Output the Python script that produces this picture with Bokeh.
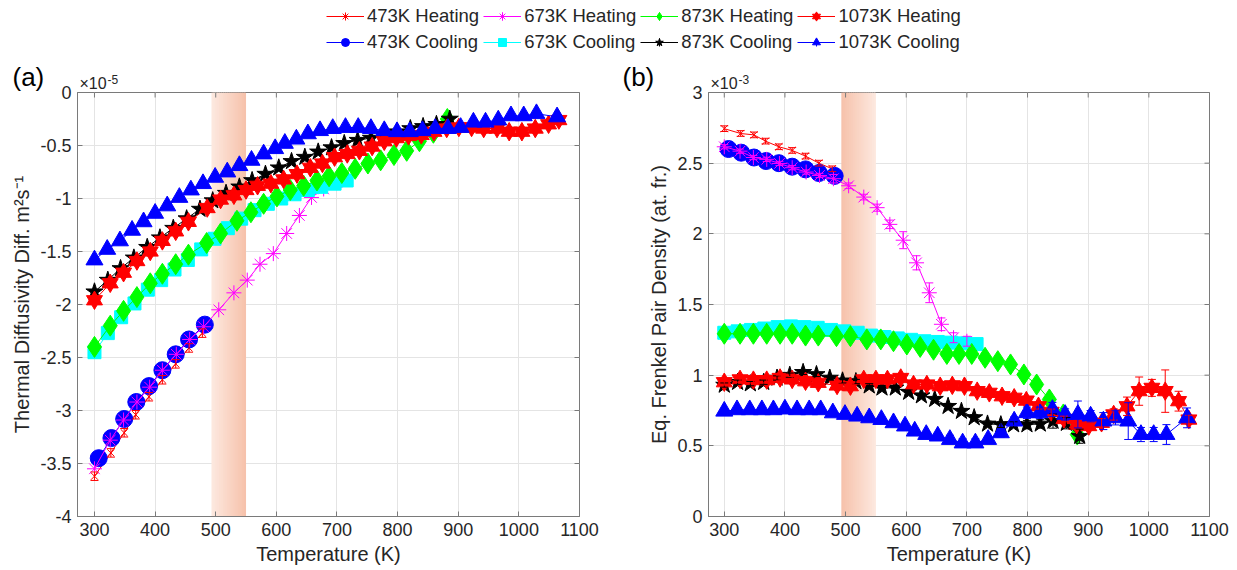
import math
from bokeh.plotting import figure
from bokeh.models import (Range1d, FixedTicker, Legend, LegendItem, Label,
                          BoxAnnotation, Whisker, TeeHead, ColumnDataSource)
from bokeh.layouts import column, row
from bokeh.embed import file_html
from bokeh.resources import INLINE

# ---------------- data ----------------
SERIES = ["473K Heating", "473K Cooling", "673K Heating", "673K Cooling",
          "873K Heating", "873K Cooling", "1073K Heating", "1073K Cooling"]
LEGEND_ORDER = ["473K Heating", "673K Heating", "873K Heating", "1073K Heating",
                "473K Cooling", "673K Cooling", "873K Cooling", "1073K Cooling"]

# temperatures (K)
T_473H = [300, 327, 349, 368, 390, 412, 434, 456, 478]
T_473C = [307, 328, 349, 369, 390, 412, 434, 456, 482]
T_673H = [300, 326, 348, 370, 391, 412, 435, 457, 480, 505, 530, 552, 573, 595, 617, 638, 658, 678, 700]
T_673C = [300, 322, 344, 366, 388, 410, 432, 454, 476, 498, 520, 542, 564, 586, 608, 630, 652, 674, 696, 716]
T_873H = [300, 326, 348, 370, 392, 412, 434, 455, 485, 508, 535, 558, 579, 601, 623, 645, 667, 687, 708,
          730, 751, 772, 794, 815, 836, 859, 882]
T_873C = [300, 322, 343, 365, 387, 408, 430, 452, 474, 495, 517, 539, 560, 582, 604, 625, 647, 669, 691,
          712, 734, 756, 777, 799, 821, 842, 864, 886]
T_1073H = [300, 326, 348, 370, 392, 412, 434, 455, 486, 508, 530, 550, 569, 591, 612, 634, 656, 676, 696,
           717, 737, 758, 778, 798, 818, 839, 860, 881, 901, 922, 942, 964, 984, 1005, 1027, 1049, 1066]
T_1073C = [300, 321, 342, 362, 381, 400, 420, 440, 459, 479, 499, 519, 539, 559, 579, 598, 614, 633, 652,
           672, 693, 714, 735, 756, 778, 799, 820, 841, 862, 883, 904, 925, 945, 966, 987, 1008, 1029, 1063]

# (a) thermal diffusivity difference, in units of 1e-5 m^2 s^-1
A_473H = [-3.62, -3.40, -3.21, -3.04, -2.87, -2.71, -2.56, -2.41, -2.27]
A_473C = [-3.45, -3.26, -3.08, -2.92, -2.77, -2.62, -2.47, -2.33, -2.19]
A_673H = [-3.55, -3.28, -3.09, -2.92, -2.78, -2.62, -2.47, -2.33, -2.21, -2.05, -1.89, -1.77, -1.62,
          -1.52, -1.33, -1.16, -0.99, -0.91, -0.85]
A_673C = [-2.45, -2.27, -2.12, -1.99, -1.86, -1.77, -1.67, -1.58, -1.48, -1.38, -1.28, -1.19, -1.11,
          -1.05, -1.00, -0.96, -0.92, -0.89, -0.86, -0.83]
A_873H = [-2.40, -2.20, -2.06, -1.93, -1.80, -1.71, -1.62, -1.53, -1.42, -1.33, -1.21, -1.13, -1.05,
          -0.98, -0.92, -0.88, -0.83, -0.79, -0.76, -0.72, -0.67, -0.64, -0.59, -0.55, -0.46, -0.38, -0.25]
A_873C = [-1.88, -1.77, -1.66, -1.56, -1.46, -1.37, -1.28, -1.19, -1.10, -1.02, -0.95, -0.89, -0.83,
          -0.77, -0.71, -0.65, -0.61, -0.56, -0.52, -0.48, -0.45, -0.43, -0.40, -0.37, -0.34, -0.32,
          -0.30, -0.25]
A_1073H = [-1.96, -1.80, -1.70, -1.59, -1.50, -1.40, -1.31, -1.22, -1.09, -1.01, -0.97, -0.92, -0.88,
           -0.86, -0.82, -0.77, -0.71, -0.67, -0.61, -0.58, -0.55, -0.51, -0.46, -0.43, -0.41, -0.40,
           -0.37, -0.34, -0.33, -0.33, -0.34, -0.34, -0.37, -0.37, -0.34, -0.30, -0.26]
A_1073C = [-1.58, -1.48, -1.40, -1.30, -1.22, -1.14, -1.07, -0.99, -0.92, -0.86, -0.80, -0.75, -0.69,
           -0.64, -0.58, -0.53, -0.48, -0.44, -0.39, -0.36, -0.34, -0.33, -0.33, -0.34, -0.36, -0.37,
           -0.37, -0.36, -0.34, -0.34, -0.33, -0.28, -0.28, -0.26, -0.22, -0.22, -0.20, -0.23]
EA_473H = [0.04, 0.04, 0.04, 0.04, 0.04, 0.04, 0.04, 0.04, 0.04]

# (b) equilibrium Frenkel pair density, in units of 1e-3 (at. fr.)
B_473H = [2.744, 2.71, 2.70, 2.656, 2.616, 2.59, 2.55, 2.50, 2.46]
B_473C = [2.60, 2.574, 2.54, 2.515, 2.50, 2.475, 2.456, 2.43, 2.41]
B_673H = [2.616, 2.585, 2.54, 2.527, 2.498, 2.468, 2.437, 2.413, 2.39, 2.34, 2.26, 2.185, 2.067, 1.955,
          1.795, 1.583, 1.36, 1.265, 1.24]
B_673C = [1.30, 1.31, 1.32, 1.33, 1.34, 1.345, 1.34, 1.335, 1.32, 1.31, 1.30, 1.28, 1.27, 1.26, 1.25,
          1.24, 1.235, 1.23, 1.225, 1.22]
B_873H = [1.293, 1.293, 1.293, 1.293, 1.293, 1.293, 1.28, 1.28, 1.276, 1.276, 1.253, 1.253, 1.24, 1.217,
          1.20, 1.18, 1.15, 1.15, 1.15, 1.123, 1.099, 1.076, 1.005, 0.934, 0.828, 0.722, 0.58]
B_873C = [0.93, 0.95, 0.94, 0.95, 0.98, 1.00, 1.02, 1.005, 0.98, 0.96, 0.955, 0.925, 0.91, 0.91, 0.88,
          0.855, 0.83, 0.78, 0.745, 0.70, 0.655, 0.65, 0.65, 0.65, 0.655, 0.675, 0.66, 0.568]
B_1073H = [0.95, 0.97, 0.965, 0.965, 0.98, 0.97, 0.957, 0.946, 0.927, 0.922, 0.97, 0.97, 0.97, 0.98,
           0.934, 0.934, 0.922, 0.928, 0.922, 0.887, 0.875, 0.851, 0.84, 0.82, 0.78, 0.74, 0.69, 0.65,
           0.64, 0.663, 0.722, 0.78, 0.887, 0.91, 0.887, 0.816, 0.686]
B_1073C = [0.745, 0.755, 0.755, 0.755, 0.755, 0.76, 0.755, 0.755, 0.755, 0.733, 0.722, 0.71, 0.698,
           0.686, 0.663, 0.64, 0.604, 0.58, 0.569, 0.545, 0.52, 0.52, 0.545, 0.592, 0.675, 0.734, 0.734,
           0.757, 0.722, 0.722, 0.71, 0.675, 0.698, 0.675, 0.58, 0.58, 0.58, 0.698]
EB_473H = [0.02, 0.02, 0.02, 0.02, 0.02, 0.02, 0.02, 0.02, 0.02]
EB_673H = [0.015, 0.015, 0.015, 0.015, 0.015, 0.015, 0.015, 0.015, 0.03, 0.02, 0.02, 0.025, 0.03,
           0.06, 0.05, 0.07, 0.045, 0.035, 0.035]
EB_873C = [0.015, 0.015, 0.015, 0.015, 0.015, 0.015, 0.015, 0.015, 0.015, 0.015, 0.015, 0.015, 0.015,
           0.015, 0.015, 0.015, 0.015, 0.02, 0.02, 0.02, 0.02, 0.02, 0.02, 0.03, 0.03, 0.05, 0.04, 0.05]
EB_1073H = [0.02, 0.02, 0.02, 0.02, 0.02, 0.02, 0.02, 0.02, 0.02, 0.02, 0.02, 0.02, 0.02, 0.02, 0.02,
            0.02, 0.02, 0.02, 0.02, 0.02, 0.02, 0.02, 0.02, 0.02, 0.02, 0.02, 0.02, 0.02, 0.03, 0.03,
            0.04, 0.065, 0.10, 0.06, 0.15, 0.07, 0.03]
EB_1073C = [0.015, 0.015, 0.015, 0.015, 0.015, 0.015, 0.015, 0.015, 0.015, 0.015, 0.015, 0.015, 0.015,
            0.015, 0.015, 0.015, 0.015, 0.015, 0.02, 0.03, 0.03, 0.03, 0.02, 0.03, 0.03, 0.04, 0.04,
            0.05, 0.04, 0.095, 0.04, 0.06, 0.05, 0.13, 0.05, 0.05, 0.07, 0.07]

X_TICKS = [300, 400, 500, 600, 700, 800, 900, 1000, 1100]
YA_TICKS = [-4, -3.5, -3, -2.5, -2, -1.5, -1, -0.5, 0]
YB_TICKS = [0, 0.5, 1, 1.5, 2, 2.5, 3]
BAND_K = [493, 550]

TEMPS = dict(zip(SERIES, [T_473H, T_473C, T_673H, T_673C, T_873H, T_873C, T_1073H, T_1073C]))
DIFF = dict(zip(SERIES, [A_473H, A_473C, A_673H, A_673C, A_873H, A_873C, A_1073H, A_1073C]))
FPD = dict(zip(SERIES, [B_473H, B_473C, B_673H, B_673C, B_873H, B_873C, B_1073H, B_1073C]))
ERR_A = dict(zip(SERIES, [EA_473H, None, None, None, None, None, None, None]))
ERR_B = dict(zip(SERIES, [EB_473H, None, EB_673H, None, None, EB_873C, EB_1073H, EB_1073C]))

# ---------------- style ----------------
FONT = "Liberation Sans"
INK = "#262626"
FRAME = "#7a7a7a"
GRID = "#e4e4e4"
BAND_LIGHT = (253, 233, 224)
BAND_DARK = (246, 193, 170)

STYLE = {
    "473K Heating": ("#FF0000", [("x", 10, False)]),
    "473K Cooling": ("#0000FF", [("circle", 17, True)]),
    "673K Heating": ("#FF00FF", [("asterisk", 15, False)]),
    "673K Cooling": ("#00FFFF", [("square", 13, True)]),
    "873K Heating": ("#00FF00", [("diamond", 21, True)]),
    "873K Cooling": ("#000000", [("star", 18, True)]),
    "1073K Heating": ("#FF0000", [("triangle", 16, True), ("inverted_triangle", 16, True)]),
    "1073K Cooling": ("#0000FF", [("triangle", 17, True)]),
}

W_TOTAL = 1237
H_TOTAL = 570
HEAD_H = 92          # header strip ends at the top edge of the plot boxes
OVERLAP = 12         # plots slide up under the header by this much (transparent border)
FIG_H = H_TOTAL - HEAD_H + OVERLAP
BORDER_TOP = OVERLAP
FRAME_H = 424
BORDER_BOTTOM = FIG_H - BORDER_TOP - FRAME_H
WA = 640
WB = W_TOTAL - WA


def style_axis(ax):
    ax.axis_line_color = FRAME
    ax.axis_line_width = 1
    ax.major_tick_line_color = FRAME
    ax.major_tick_in = 5
    ax.major_tick_out = 0
    ax.minor_tick_line_color = None
    ax.major_label_text_font = FONT
    ax.major_label_text_font_size = "18px"
    ax.major_label_text_color = INK
    ax.major_label_standoff = 6
    ax.axis_label_text_font = FONT
    ax.axis_label_text_font_size = "20px"
    ax.axis_label_text_font_style = "normal"
    ax.axis_label_text_color = INK
    ax.axis_label_standoff = 4


def mix(c1, c2, f):
    return "#%02x%02x%02x" % tuple(int(round(a + (b - a) * f)) for a, b in zip(c1, c2))


def add_series(p, name, T, Y, E):
    color, marks = STYLE[name]
    p.line(T, Y, line_color=color, line_width=1)
    if E is not None:
        src = ColumnDataSource(dict(base=T,
                                    lower=[y - e for y, e in zip(Y, E)],
                                    upper=[y + e for y, e in zip(Y, E)]))
        p.add_layout(Whisker(source=src, base="base", lower="lower", upper="upper",
                             line_color=color, line_width=1, level="glyph",
                             upper_head=TeeHead(size=8, line_color=color, line_width=1),
                             lower_head=TeeHead(size=8, line_color=color, line_width=1)))
    for m, s, filled in marks:
        p.scatter(T, Y, marker=m, size=s, line_color=color, line_width=1,
                  fill_color=color if filled else None)


def make_panel(width, bl, br, x_start, y_rng, y_ticks, y_label, values, errors, band_reverse):
    p = figure(width=width, height=FIG_H, x_range=Range1d(x_start, 1100), y_range=Range1d(*y_rng),
               toolbar_location=None, output_backend="svg",
               min_border_left=bl, min_border_right=br,
               min_border_top=BORDER_TOP, min_border_bottom=BORDER_BOTTOM)
    p.outline_line_color = FRAME
    p.background_fill_color = "white"
    p.border_fill_alpha = 0
    p.xaxis.ticker = FixedTicker(ticks=X_TICKS)
    p.yaxis.ticker = FixedTicker(ticks=y_ticks)
    p.yaxis.major_label_overrides = {t: ("%g" % t) for t in y_ticks}
    p.xaxis.axis_label = "Temperature (K)"
    p.yaxis.axis_label = y_label
    style_axis(p.xaxis[0])
    style_axis(p.yaxis[0])
    p.grid.grid_line_color = GRID
    p.grid.grid_line_width = 1

    # shaded temperature window with a soft gradient
    n = 18
    w = (BAND_K[1] - BAND_K[0]) / n
    for i in range(n):
        f = (i + 0.5) / n
        if band_reverse:
            f = 1 - f
        left = BAND_K[0] + i * w
        rgt = BAND_K[0] + (i + 1) * w + (w * 0.5 if i < n - 1 else 0)
        p.add_layout(BoxAnnotation(left=left, right=rgt, fill_color=mix(BAND_LIGHT, BAND_DARK, f),
                                   fill_alpha=1.0, line_color=None, level="underlay"))

    for name in SERIES:
        add_series(p, name, TEMPS[name], values[name], errors[name])

    # inward ticks on the top and right edges of the box (half of each dash is clipped away)
    p.scatter(X_TICKS, [y_rng[1]] * len(X_TICKS), marker="dash", angle=math.pi / 2, size=10,
              line_color=FRAME, line_width=1)
    p.scatter([1100] * len(y_ticks), y_ticks, marker="dash", size=10, line_color=FRAME, line_width=1)
    return p


pa = make_panel(WA, 77, WA - 77 - 502, 272, (-4, 0), YA_TICKS, "Thermal Diffusivity Diff. m²s⁻¹",
                DIFF, ERR_A, False)
pb = make_panel(WB, 68, WB - 68 - 501, 274, (0, 3), YB_TICKS, "Eq. Frenkel Pair Density (at. fr.)",
                FPD, ERR_B, True)

# ---------------- header strip: legend, panel tags, exponents ----------------
ph = figure(width=W_TOTAL, height=HEAD_H, x_range=Range1d(0, W_TOTAL), y_range=Range1d(0, HEAD_H),
            toolbar_location=None, output_backend="svg", x_axis_location=None, y_axis_location=None,
            min_border=0)
ph.grid.visible = False
ph.outline_line_color = None
items = []
for name in LEGEND_ORDER:
    color, marks = STYLE[name]
    rs = [ph.line([-10, -9], [-10, -9], line_color=color, line_width=1)]
    rs.append(ph.scatter([-10], [-10], marker="cross", size=8, line_color=color, line_width=1))
    for m, s, filled in marks:
        rs.append(ph.scatter([-10], [-10], marker=m, size=s, line_color=color, line_width=1,
                             fill_color=color if filled else None))
    items.append(LegendItem(label=name, renderers=rs))
legend = Legend(items=items, orientation="horizontal", ncols=4, location=(326, HEAD_H - 53),
                label_text_font=FONT, label_text_font_size="18.5px", label_text_color=INK,
                glyph_width=38, glyph_height=20, label_height=20, label_standoff=3, spacing=4,
                padding=0, margin=0, border_line_color=None, background_fill_alpha=0)
ph.add_layout(legend)

for tag, tx, ex, exp_txt in [("(a)", 12, 79, "-5"), ("(b)", 622, 710, "-3")]:
    ph.add_layout(Label(x=tx, y=1, text=tag, text_font=FONT, text_font_size="26px",
                        text_color="#000000", text_baseline="bottom", text_align="left"))
    ph.add_layout(Label(x=ex, y=1, text="×10", text_font=FONT, text_font_size="16px",
                        text_color=INK, text_baseline="bottom", text_align="left"))
    ph.add_layout(Label(x=ex + 28, y=9, text=exp_txt, text_font=FONT, text_font_size="12px",
                        text_color=INK, text_baseline="bottom", text_align="left"))

plots = row(pa, pb, margin=(-OVERLAP, 0, 0, 0))
layout = column(ph, plots)
open("out.html", "w").write(file_html(layout, INLINE))
